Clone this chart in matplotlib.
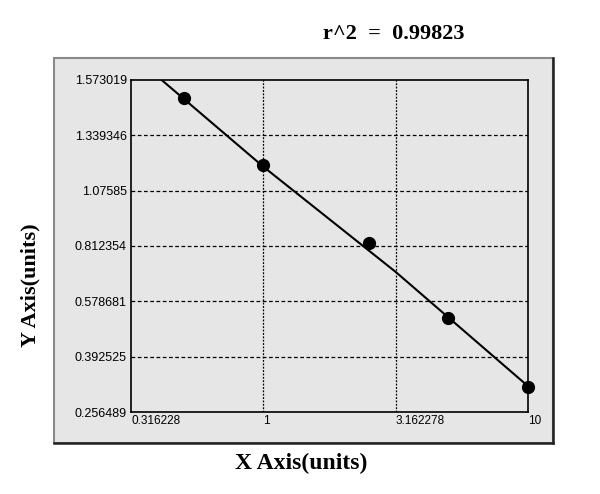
import numpy as np
import matplotlib
matplotlib.use('Agg')
import matplotlib.pyplot as plt
from matplotlib.patches import Rectangle
from matplotlib.lines import Line2D

# standard points
conc = [0.5, 1.0, 2.5, 5.0, 10.0]
od = [1.496, 1.196, 0.827, 0.523, 0.318]

# fitted curve
fit_x = [0.413, 1.0, 3.162, 10.0]
fit_y = [1.573, 1.19, 0.703, 0.32]

xticks = [0.316228, 1, 3.162278, 10]
xlabels = ['0.316228', '1', '3.162278', '10']
yticks = [0.256489, 0.392525, 0.578681, 0.812354, 1.07585, 1.339346, 1.573019]
ylabels = ['0.256489', '0.392525', '0.578681', '0.812354', '1.07585', '1.339346', '1.573019']
r2 = 0.99823

grey = '#e6e6e6'
pos = np.arange(len(yticks))
plt.rcParams['font.family'] = ['Liberation Sans', 'DejaVu Sans']


def fwd(v):
    return np.interp(v, yticks, pos)


def inv(p):
    return np.interp(p, pos, yticks)


fig = plt.figure(figsize=(6, 4.94), dpi=100)
fig.patch.set_facecolor('white')

# grey panel behind the plot
x0, x1, y0, y1 = 54/600, 553/600, 1-443/494, 1-58/494
fig.patches.append(Rectangle((x0, y0), x1-x0, y1-y0, transform=fig.transFigure,
                             facecolor=grey, edgecolor='#8a8a8a', lw=1.5, zorder=-2))
fig.lines.append(Line2D([x1, x1], [y0, y1], transform=fig.transFigure, color='#222222', lw=1.8, zorder=-1))
fig.lines.append(Line2D([x0, x1], [y0, y0], transform=fig.transFigure, color='#222222', lw=1.8, zorder=-1))

ax = fig.add_axes([131/600, 1-412/494, (528-131)/600, (412-80)/494])
ax.set_facecolor(grey)
ax.set_xscale('log')
ax.set_yscale('function', functions=(fwd, inv))
ax.set_xlim(xticks[0], xticks[-1])
ax.set_ylim(yticks[0], yticks[-1])

ax.plot(fit_x, fit_y, color='black', lw=1.5, zorder=3)
ax.plot(conc, od, 'o', color='black', markersize=8.5, zorder=4, clip_on=False)

ax.set_xticks(xticks)
ax.set_xticklabels(xlabels, ha='left')
ax.xaxis.set_minor_locator(matplotlib.ticker.NullLocator())
ax.set_yticks(yticks)
ax.set_yticklabels(ylabels)
ax.yaxis.set_minor_locator(matplotlib.ticker.NullLocator())
ax.tick_params(length=0, labelsize=9, pad=3, colors='black')
ax.tick_params(axis='x', pad=2, labelsize=8.5)

for t in xticks[1:-1]:
    ax.axvline(t, color='black', lw=0.9, ls=(0, (1.5, 1.2)), zorder=1)
for t in yticks[1:-1]:
    ax.axhline(t, color='black', lw=0.9, ls=(0, (3, 2)), zorder=1)

for s in ax.spines.values():
    s.set_color('black')
    s.set_linewidth(1.2)

fig.text(301/600, 1-463/494, 'X Axis(units)', ha='center', va='center',
         family='Liberation Serif', fontweight='bold', fontsize=17)
fig.text(30/600, 1-285/494, 'Y Axis(units)', ha='center', va='center', rotation=90,
         family='Liberation Serif', fontweight='bold', fontsize=16)
fig.text(394/600, 1-34/494, 'r^2  =  %.5f' % r2, ha='center', va='center',
         family='Liberation Serif', fontweight='bold', fontsize=16)

fig.savefig('out.png', dpi=100)
